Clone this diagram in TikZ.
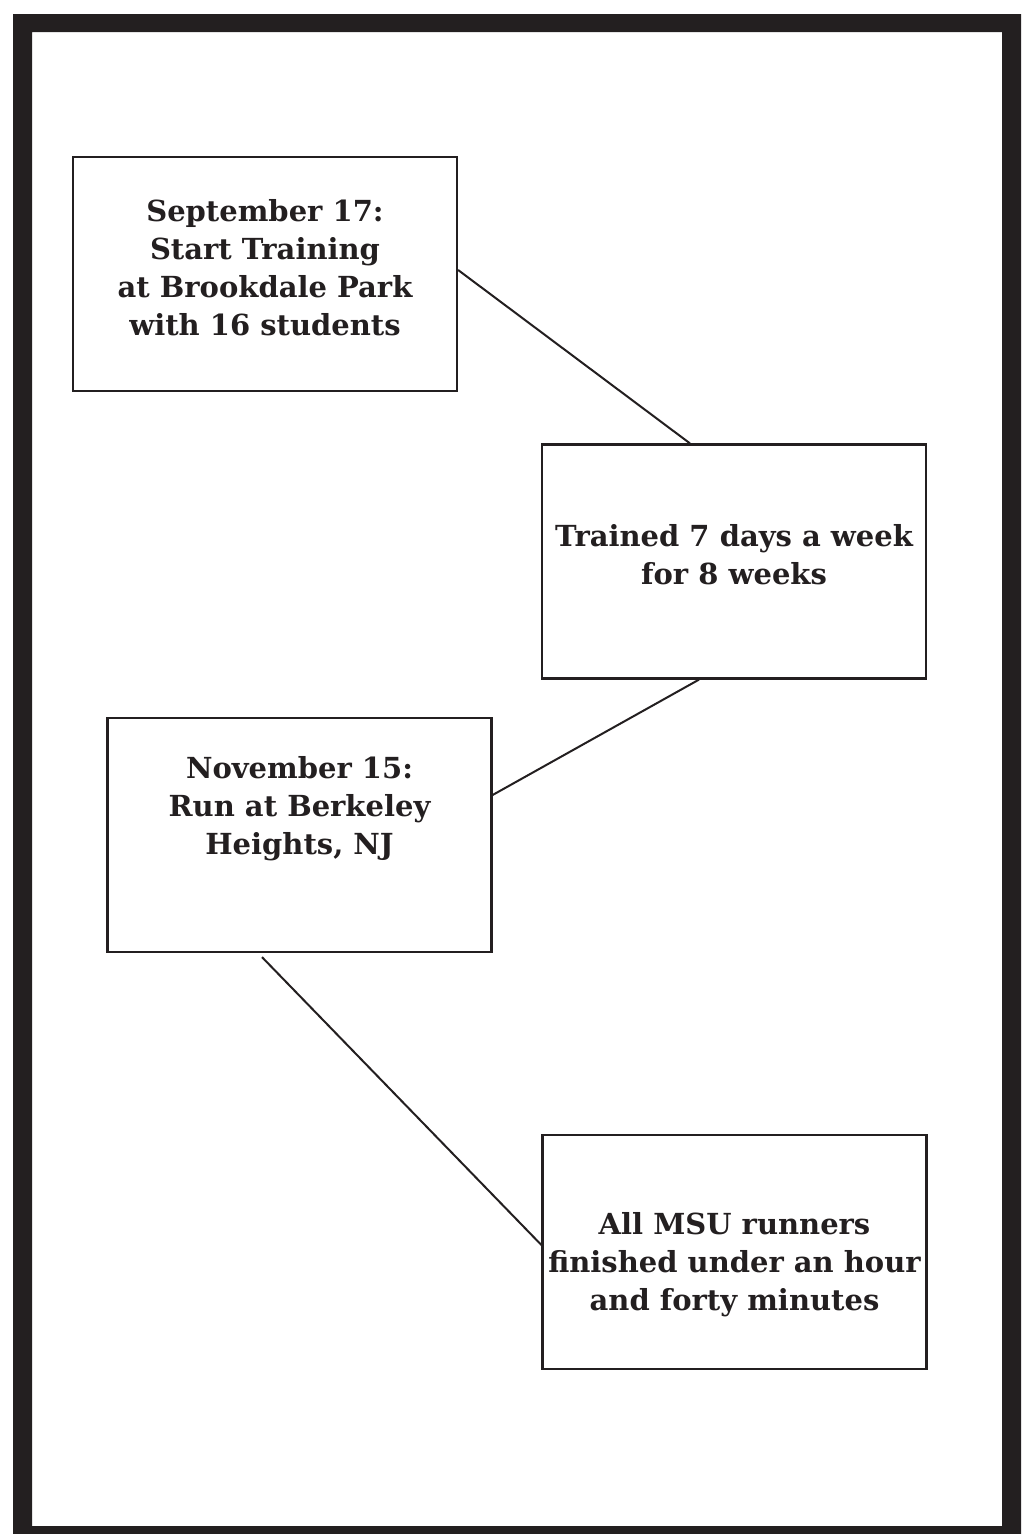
\documentclass[tikz,border=0pt]{standalone}
\usepackage{fontspec}
\setmainfont{DejaVu Serif}
\definecolor{ink}{HTML}{231F20}
\begin{document}
\begin{tikzpicture}[x=1pt,y=-1pt,
  box/.style={draw=ink,line width=2.2pt,minimum width=384pt,minimum height=234pt,inner sep=0pt},
  txt/.style={text=ink,font=\fontsize{29}{38}\selectfont\bfseries,align=center,inner sep=0pt},
  link/.style={draw=ink,line width=2pt}]
\useasboundingbox (0,0) rectangle (1033,1534);
\fill[ink,even odd rule] (13,14) rectangle (1021,1534) (32,32) rectangle (1002,1526);
\node[box] (b1) at (265,274) {};
\node[box] (b2) at (734,561.5) {};
\node[box] (b3) at (299.5,835) {};
\node[box] (b4) at (734.5,1252) {};
\node[txt] (t1) at (265,268) {September 17:\\Start Training\\at Brookdale Park\\with 16 students};
\node[txt] (t2) at (734,555) {Trained 7 days a week\\for 8 weeks};
\node[txt] (t3) at (299.5,809) {November 15:\\Run at Berkeley\\Heights, NJ};
\node[txt] (t4) at (734.5,1265) {All MSU runners\\finished under an hour\\and forty minutes};
\draw[link] ([yshift=4pt]b1.east) -- ([xshift=-44pt]b2.north);
\draw[link] ([xshift=-35pt]b2.south) -- ([yshift=40pt]b3.east);
\draw[link] ([xshift=-37.5pt,yshift=-4pt]b3.south) -- ([yshift=7pt]b4.west);
\end{tikzpicture}
\end{document}
